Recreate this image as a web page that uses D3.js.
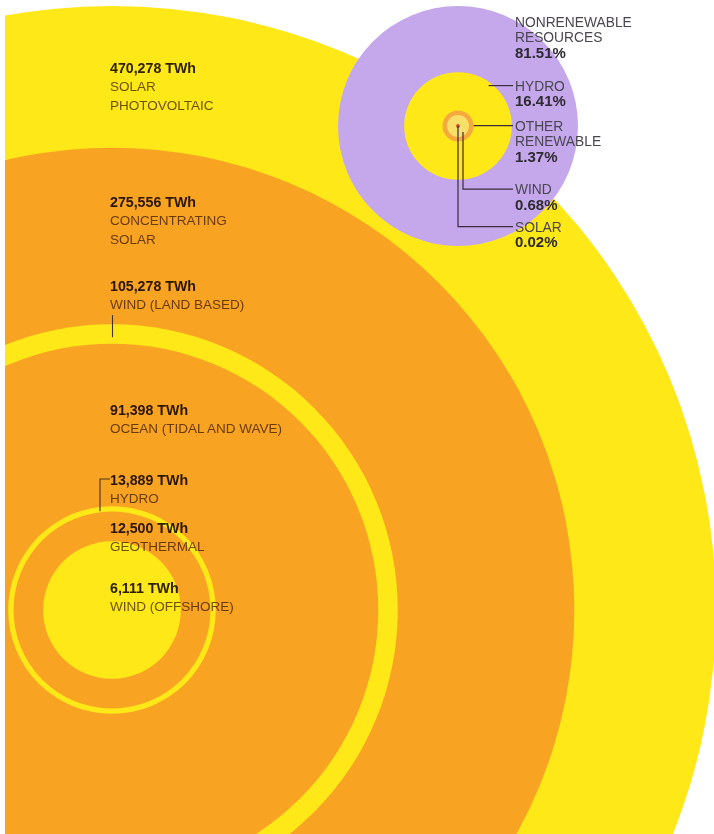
<!DOCTYPE html>
<html><head><meta charset="utf-8">
<script src="https://cdn.jsdelivr.net/npm/d3@7"></script>
<style>
html,body{margin:0;padding:0;background:#fff;}
svg{display:block;}
text{font-family:"Liberation Sans", Arial, Helvetica, sans-serif;}
.mul{mix-blend-mode:multiply;}
</style>
</head><body>
<svg id="chart" width="714" height="834"></svg>
<script>
// ---------- data ----------
const sourceNames = ["SOLAR PHOTOVOLTAIC", "CONCENTRATING SOLAR", "WIND (LAND BASED)", "OCEAN (TIDAL AND WAVE)", "HYDRO", "GEOTHERMAL", "WIND (OFFSHORE)"];
const sourceLabelLines = [["SOLAR", "PHOTOVOLTAIC"], ["CONCENTRATING", "SOLAR"], ["WIND (LAND BASED)"], ["OCEAN (TIDAL AND WAVE)"], ["HYDRO"], ["GEOTHERMAL"], ["WIND (OFFSHORE)"]];
const sourceTWh = [470278, 275556, 105278, 91398, 13889, 12500, 6111];

const mixNames = ["NONRENEWABLE RESOURCES", "HYDRO", "OTHER RENEWABLE", "WIND", "SOLAR"];
const mixLabelLines = [["NONRENEWABLE", "RESOURCES"], ["HYDRO"], ["OTHER", "RENEWABLE"], ["WIND"], ["SOLAR"]];
const mixShare = [81.51, 16.41, 1.37, 0.68, 0.02];

// ---------- layout / style ----------
const W = 714, H = 834;
const YELLOW = "#ffe818", ORANGE = "#f8a422", PURPLE = "#c5a8ec";
const center = {x: 112, y: 610};
const maxR = 604;
const labelX = 110;
const labelBaseline = [73, 207, 290.7, 415, 485, 533, 593];
const lineGap = 18.4;

const inset = {x: 458, y: 126, r: 120, labelX: 515};
const insetBaseline = [26.5, 90.5, 130.5, 194, 231.5];
const insetGap = 15.5;
const insetFill = [PURPLE, YELLOW, "#f6a93c", "#f7e06a", "#d8432a"];

const svg = d3.select("#chart");
svg.append("rect").attr("width", W).attr("height", H).attr("fill", "#fff");

svg.append("clipPath").attr("id", "pageClip")
  .append("rect").attr("x", 5).attr("y", 0).attr("width", W - 5).attr("height", H);

// ---------- main nested circles ----------
const r = d3.scaleSqrt().domain([0, d3.max(sourceTWh)]).range([0, maxR]);
const gMain = svg.append("g").attr("clip-path", "url(#pageClip)");
gMain.selectAll("circle").data(sourceTWh).join("circle")
  .attr("cx", center.x).attr("cy", center.y)
  .attr("r", d => r(d))
  .attr("fill", (d, i) => i % 2 === 0 ? YELLOW : ORANGE);

// labels
const fmt = d3.format(",");
const gLab = svg.append("g");
sourceTWh.forEach((v, i) => {
  const t = gLab.append("text").attr("x", labelX).attr("y", labelBaseline[i]);
  t.append("tspan").attr("x", labelX).attr("y", labelBaseline[i])
    .attr("font-weight", "bold").attr("font-size", 14.2).attr("fill", "#2f221a")
    .attr("class", "mul")
    .text(fmt(v) + " TWh");
  sourceLabelLines[i].forEach((ln, j) => {
    t.append("tspan").attr("x", labelX).attr("y", labelBaseline[i] + lineGap * (j + 1))
      .attr("font-size", 13.5).attr("fill", "#6e5a4e").attr("class", "mul")
      .text(ln);
  });
});

// leader tick for wind (land based)
const tickColor = "#4a3322";
const wlbTop = center.y - r(sourceTWh[2]);
svg.append("line")
  .attr("x1", labelX + 2.5).attr("x2", labelX + 2.5)
  .attr("y1", labelBaseline[2] + lineGap + 6).attr("y2", wlbTop + 13)
  .attr("stroke", tickColor).attr("stroke-width", 1.1);

// bracket for hydro
const hydroTop = center.y - r(sourceTWh[4]);
svg.append("path")
  .attr("d", d3.line()([[labelX, labelBaseline[4] - 6], [labelX - 10, labelBaseline[4] - 6], [labelX - 10, hydroTop + 5]]))
  .attr("fill", "none").attr("stroke", tickColor).attr("stroke-width", 1.1);

// ---------- inset: electricity mix ----------
const r2 = d3.scaleSqrt().domain([0, mixShare[0]]).range([0, inset.r]);
const gIn = svg.append("g");
gIn.selectAll("circle").data(mixShare).join("circle")
  .attr("cx", inset.x).attr("cy", inset.y)
  .attr("r", d => Math.max(r2(d), 1.6))
  .attr("fill", (d, i) => insetFill[i]);

mixShare.forEach((v, i) => {
  const lines = mixLabelLines[i];
  const t = gIn.append("text");
  lines.forEach((ln, j) => {
    t.append("tspan").attr("x", inset.labelX).attr("y", insetBaseline[i] + insetGap * j)
      .attr("font-size", 13.8).attr("fill", "#4a4650").text(ln);
  });
  t.append("tspan").attr("x", inset.labelX).attr("y", insetBaseline[i] + insetGap * lines.length)
    .attr("font-size", 15).attr("font-weight", "bold").attr("fill", "#2d2a30")
    .text(v.toFixed(2) + "%");
});

// leader lines
const leadColor = "#3a2a3e";
const capMid = 4.9;
const endX = inset.labelX - 2;
const lead = (pts) => gIn.append("path").attr("d", d3.line()(pts))
  .attr("fill", "none").attr("stroke", leadColor).attr("stroke-width", 1.2);

// hydro
{
  const y = insetBaseline[1] - capMid;
  const dy = inset.y - y;
  const edge = inset.x + Math.sqrt(r2(mixShare[1]) ** 2 - dy * dy);
  lead([[edge - 5, y], [endX, y]]);
}
// other renewable
{
  const y = insetBaseline[2] - capMid;
  lead([[inset.x + r2(mixShare[2]), y], [endX, y]]);
}
// wind
{
  const y = insetBaseline[3] - capMid;
  const x = inset.x + 5;
  lead([[x, inset.y + r2(mixShare[3]) * 0.55], [x, y], [endX, y]]);
}
// solar
{
  const y = insetBaseline[4] - capMid;
  lead([[inset.x, inset.y], [inset.x, y], [endX, y]]);
}
</script>
</body></html>
